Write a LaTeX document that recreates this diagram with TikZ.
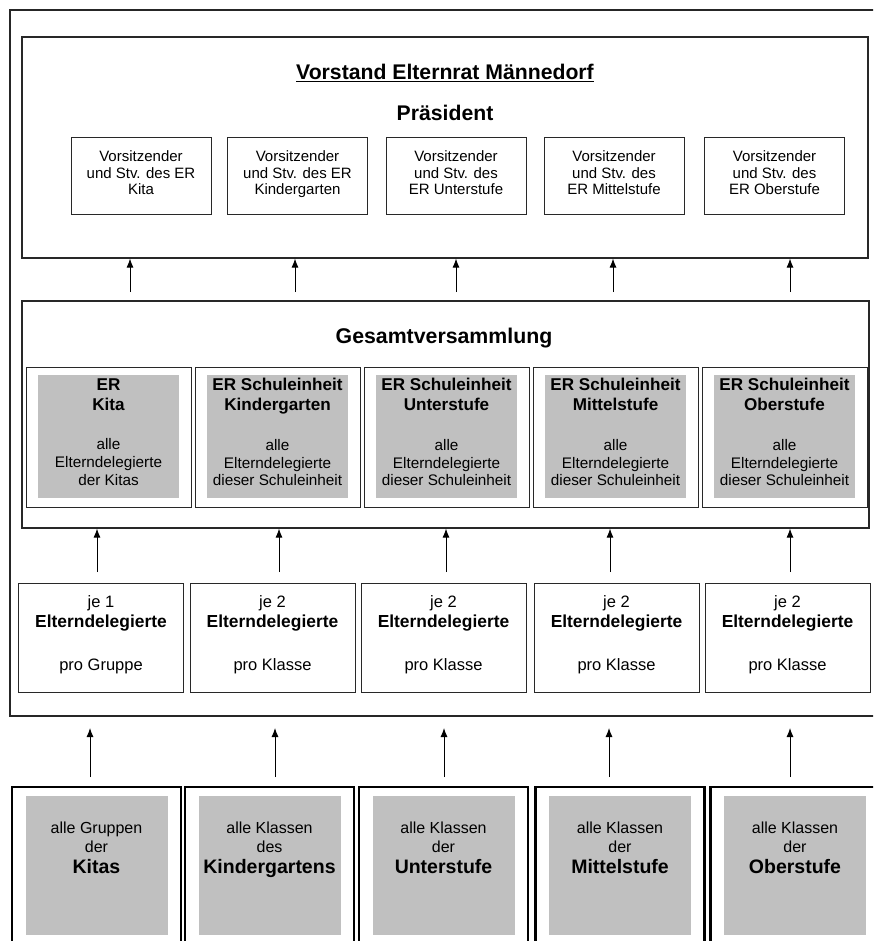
\documentclass[tikz,border=0pt]{standalone}
\usepackage{fontspec}
\setmainfont{Liberation Sans}
\usetikzlibrary{arrows.meta}
\definecolor{boxgray}{RGB}{192,192,192}
\definecolor{linegray}{RGB}{40,40,40}
\newcommand{\erkopf}[1]{{\fontsize{17.1}{20}\selectfont\bfseries #1}}
\newcommand{\stufenkopf}[1]{{\fontsize{19.5}{21}\selectfont\bfseries #1}}
\newcommand{\delkopf}[1]{{\fontsize{17.4}{20}\selectfont\bfseries #1}}
\tikzstyle{frame}=[draw=linegray,line width=1.2pt]
\tikzstyle{member}=[draw=linegray,line width=1pt,fill=white,minimum width=140pt,minimum height=77pt,inner sep=0pt,align=center,text depth=7pt,font=\fontsize{15}{16.5}\selectfont]
\tikzstyle{erframe}=[draw=linegray,line width=1pt,fill=white,minimum width=165pt,minimum height=140pt,inner sep=0pt]
\tikzstyle{ergroup}=[fill=boxgray,minimum width=141pt,minimum height=123pt,inner sep=0pt,align=center,text depth=9pt,font=\fontsize{15.3}{17.8}\selectfont]
\tikzstyle{delegate}=[draw=linegray,line width=1pt,fill=white,minimum width=165pt,minimum height=109pt,inner sep=0pt,align=center,text depth=9.5pt,font=\fontsize{16.5}{20}\selectfont]
\tikzstyle{poolframe}=[draw=black,line width=2.2pt,fill=white,minimum width=169pt,minimum height=172pt,inner sep=0pt]
\tikzstyle{pool}=[fill=boxgray,minimum width=142pt,minimum height=139pt,inner sep=0pt]
\tikzstyle{pooltext}=[align=center,inner sep=0pt,text depth=0pt,font=\fontsize{16}{19}\selectfont]
\tikzstyle{heading}=[font=\fontsize{21.2}{25}\selectfont\bfseries,inner sep=0pt]
\tikzstyle{edge}=[draw,line width=0.9pt,-{Latex[length=9pt,width=7pt]}]

\begin{document}
\begin{tikzpicture}[x=1pt,y=-1pt]
    \useasboundingbox (0,0) rectangle (873,941);
    \clip (0,0) rectangle (873,941);

    % outer frame round the Elternrat
    \draw[line width=2.4pt,draw=black!85] (10,10) rectangle (895,716);

    % Vorstand
    \node[frame,minimum width=846pt,minimum height=221pt,inner sep=0pt] (vorstand) at (445,147.5) {};
    \node[heading] (title) at (445,73) {\underline{Vorstand Elternrat Männedorf}};
    \node[heading] (praesident) at (445,113) {Präsident};
    \foreach \x/\name/\zeile/\stufe in {141/1/des ER/Kita, 297.5/2/des ER/Kindergarten,
        456/3/des/ER Unterstufe, 614/4/des/ER Mittelstufe, 774.5/5/des/ER Oberstufe}
        \node[member] (vors\name) at (\x,176.5) {Vorsitzender\\und Stv. \zeile\\\stufe};

    % Gesamtversammlung
    \node[frame,minimum width=847pt,minimum height=227pt,inner sep=0pt] (gesamt) at (445.5,414.5) {};
    \node[heading,font=\fontsize{21.3}{25}\selectfont\bfseries] (gvtitle) at (444,338) {Gesamtversammlung};
    \foreach \x/\name/\kopf/\stufe/\fuss in {108.5/1/ER/Kita/der Kitas,
        277.5/2/ER Schuleinheit/Kindergarten/dieser Schuleinheit,
        446.5/3/ER Schuleinheit/Unterstufe/dieser Schuleinheit,
        615.5/4/ER Schuleinheit/Mittelstufe/dieser Schuleinheit,
        784.5/5/ER Schuleinheit/Oberstufe/dieser Schuleinheit}
    {
        \node[erframe] (erframe\name) at (\x,437) {};
        \node[ergroup] (er\name) at (\x,436.5)
            {\erkopf{\kopf}\\[2.2pt]\erkopf{\stufe}\\[22pt]alle\\Elterndelegierte\\\fuss};
    }

    % Elterndelegierte
    \foreach \x/\name/\anz/\pro in {101/1/1/Gruppe, 272.5/2/2/Klasse, 443.5/3/2/Klasse,
        616.5/4/2/Klasse, 787.5/5/2/Klasse}
        \node[delegate] (deleg\name) at (\x,637.5)
            {je \anz\\\delkopf{Elterndelegierte}\\[23pt]pro \pro};

    % Gruppen und Klassen
    \foreach \x/\name/\was/\art/\stufe in {96.5/1/Gruppen/der/Kitas,
        269.5/2/Klassen/des/Kindergartens, 443.5/3/Klassen/der/Unterstufe,
        620/4/Klassen/der/Mittelstufe, 795/5/Klassen/der/Oberstufe}
    {
        \node[poolframe] (poolframe\name) at (\x,873) {};
        \node[pool] (pool\name) at (\x,865.5) {};
        \node[pooltext] (pooltext\name) at (\x,848)
            {alle \was\\\art\\[2pt]\stufenkopf{\stufe}};
    }

    % Pfeile
    \foreach \x/\name in {130/1, 295/2, 456/3, 613/4, 790/5}
    {
        \coordinate (gvtop\name) at (\x,292);
        \path[edge] (gvtop\name) -- (vorstand.south -| gvtop\name);
    }
    \foreach \x/\name in {97/1, 279/2, 446/3, 610/4, 790/5}
    {
        \coordinate (deltop\name) at (\x,572);
        \path[edge] (deltop\name) -- (gesamt.south -| deltop\name);
    }
    \foreach \x/\name in {90/1, 275/2, 444/3, 609/4, 790/5}
    {
        \coordinate (pooltop\name) at (\x,777);
        \coordinate (frametip\name) at (\x,728);
        \path[edge] (pooltop\name) -- (frametip\name);
    }
\end{tikzpicture}
\end{document}
